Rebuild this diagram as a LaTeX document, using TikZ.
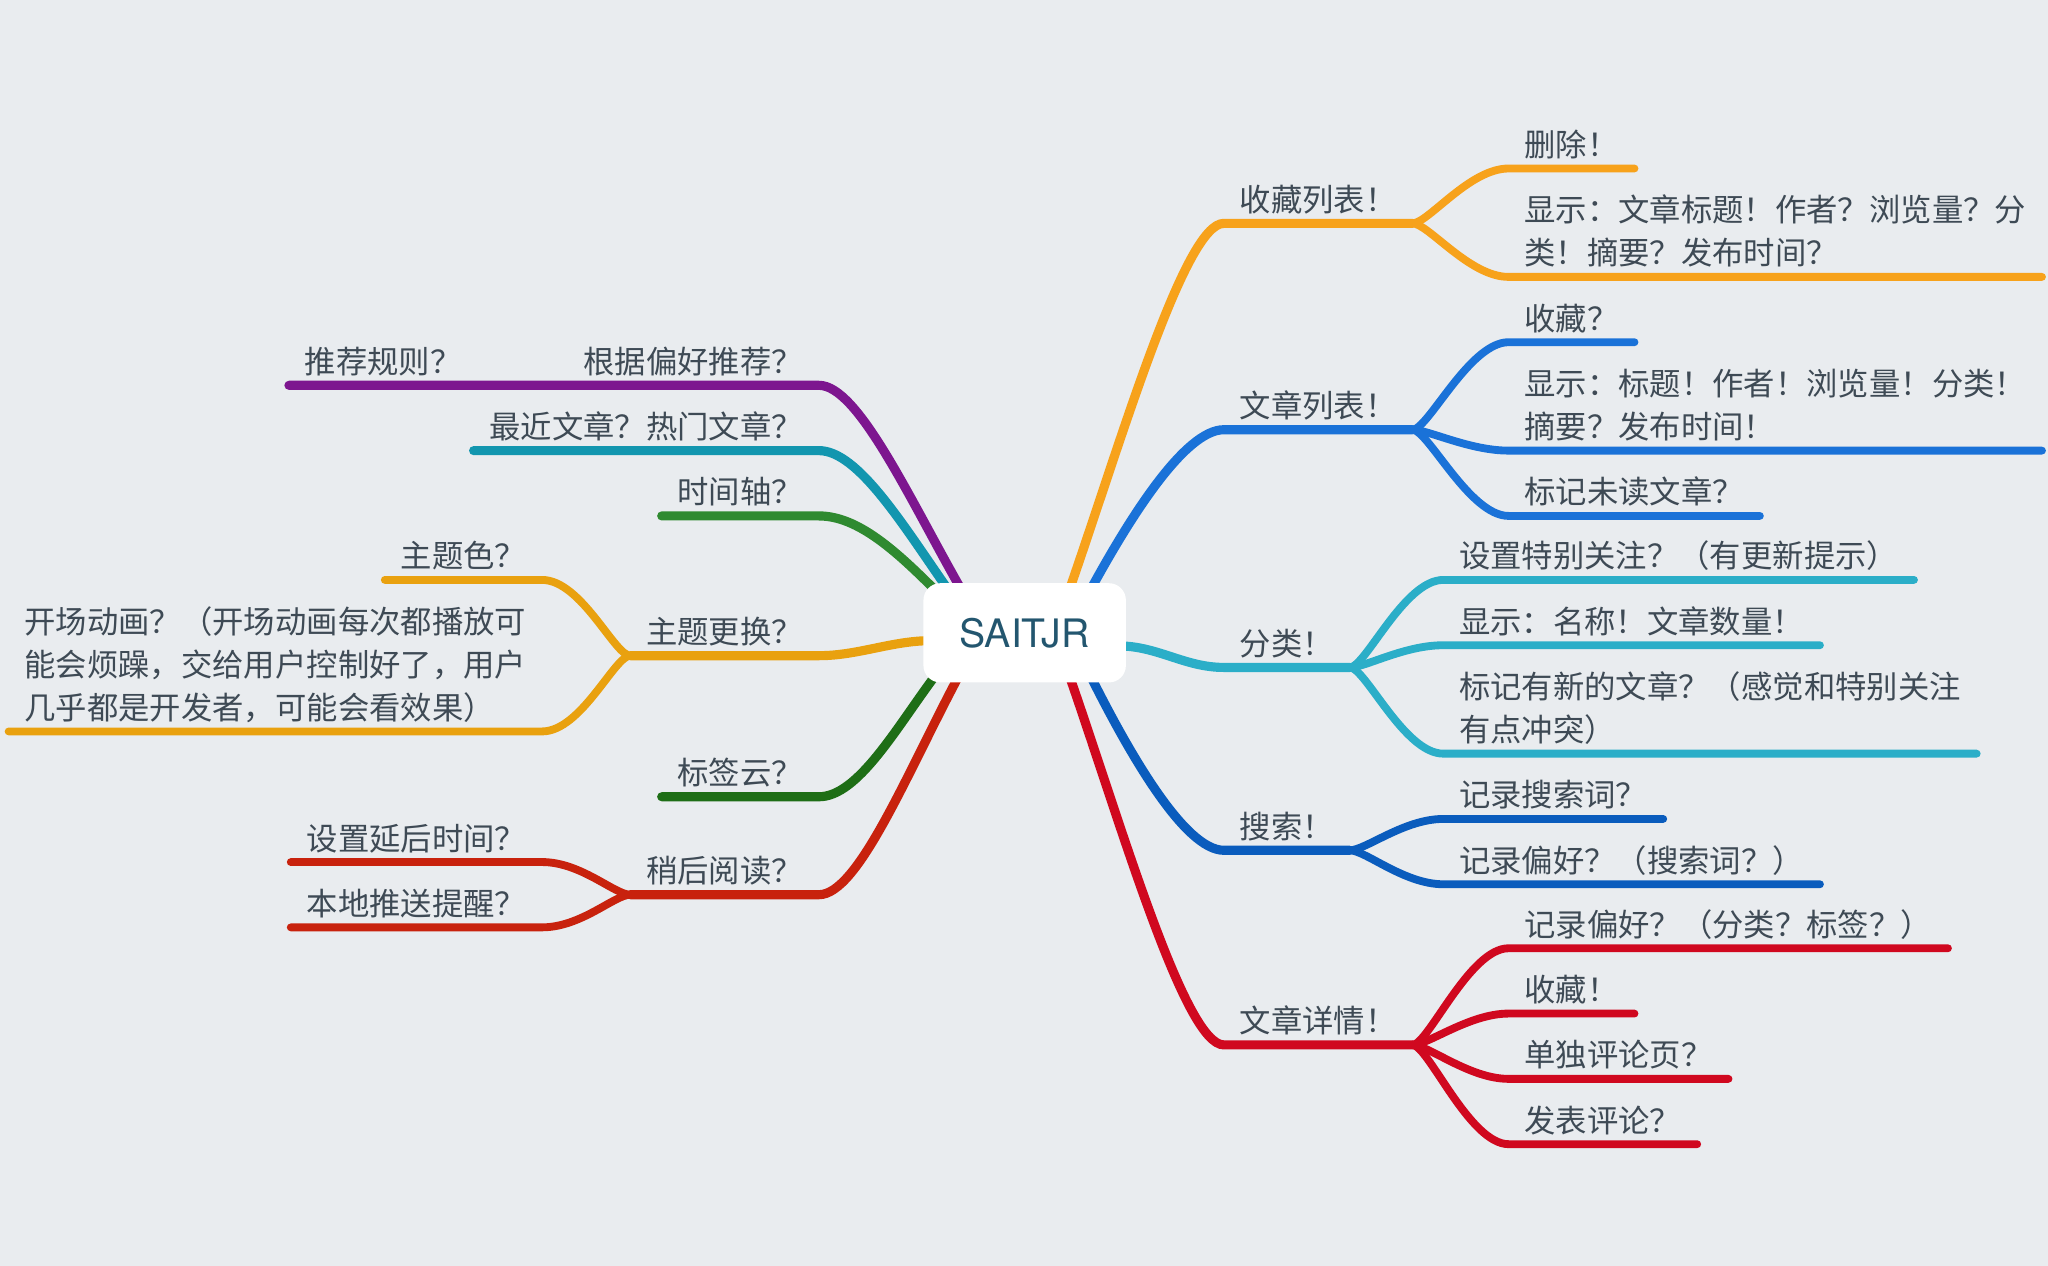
\documentclass[tikz,border=0pt]{standalone}
\usepackage{fontspec}
\newfontfamily\cjk{Noto Sans CJK SC}
\newfontfamily\rootfont{TeX Gyre Heros}
\definecolor{paper}{HTML}{E9ECEF}
\definecolor{txt}{HTML}{3E4A55}
\definecolor{rootc}{HTML}{23566F}
\definecolor{cFav}{HTML}{F7A21B}
\definecolor{cList}{HTML}{1A72D8}
\definecolor{cCat}{HTML}{2BAEC8}
\definecolor{cSearch}{HTML}{0A5CBD}
\definecolor{cDetail}{HTML}{D0081F}
\definecolor{cRec}{HTML}{7D168F}
\definecolor{cNew}{HTML}{1296AF}
\definecolor{cTime}{HTML}{2F8A30}
\definecolor{cTheme}{HTML}{E9A10F}
\definecolor{cTag}{HTML}{1E6E16}
\definecolor{cLater}{HTML}{C8220D}
\pgfdeclarelayer{bg}
\pgfdeclarelayer{lines}
\pgfsetlayers{bg,lines,main}
\tikzset{
  topic/.style={font=\cjk\fontsize{24}{33}\selectfont, text=txt, inner xsep=12pt, inner ysep=9pt, text depth=0pt},
  rtopic/.style={topic, anchor=south west},
  ltopic/.style={topic, anchor=south east},
  branch/.style={line width=6pt, line cap=round, line join=round, draw=#1},
  mainbranch/.style={branch=#1, line width=7pt},
}
\begin{document}
\begin{tikzpicture}[x=1pt,y=-1pt]
\begin{pgfonlayer}{bg}
\fill[paper] (0,0) rectangle (1568,969);
\end{pgfonlayer}
\useasboundingbox (0,0) rectangle (1568,969);
\node[fill=white, rounded corners=13pt, minimum width=155pt, minimum height=76pt, font=\rootfont\fontsize{30}{36}\selectfont, text=rootc] (root) at (784.5,484.5) {SAITJR};

% right side
\node[rtopic] (fav) at (937,171) {收藏列表！};
\node[rtopic] (del) at (1155,129) {删除！};
\node[rtopic] (favshow) at (1155,212) {\parbox[b]{384pt}{显示：文章标题！作者？浏览量？分\\类！摘要？发布时间？}};

\node[rtopic] (list) at (937,329) {文章列表！};
\node[rtopic] (lfav) at (1155,262) {收藏？};
\node[rtopic] (lshow) at (1155,345) {\parbox[b]{384pt}{显示：标题！作者！浏览量！分类！\\摘要？发布时间！}};
\node[rtopic] (unread) at (1155,395) {标记未读文章？};

\node[rtopic] (cat) at (937,511) {分类！};
\node[rtopic] (follow) at (1105,444) {设置特别关注？（有更新提示）};
\node[rtopic] (catshow) at (1105,494) {显示：名称！文章数量！};
\node[rtopic] (newmark) at (1105,577) {\parbox[b]{384pt}{标记有新的文章？（感觉和特别关注\\有点冲突）}};

\node[rtopic] (search) at (937,651) {搜索！};
\node[rtopic] (kw) at (1105,627) {记录搜索词？};
\node[rtopic] (pref) at (1105,677) {记录偏好？（搜索词？）};

\node[rtopic] (detail) at (937,800) {文章详情！};
\node[rtopic] (dpref) at (1155,726) {记录偏好？（分类？标签？）};
\node[rtopic] (dfav) at (1155,776) {收藏！};
\node[rtopic] (cmtpage) at (1155,826) {单独评论页？};
\node[rtopic] (cmt) at (1155,876) {发表评论？};

% left side
\node[ltopic] (rec) at (627,295) {根据偏好推荐？};
\node[ltopic] (rule) at (rec.south west) {\makebox[189pt][l]{推荐规则？}};
\node[ltopic] (hot) at (627,345) {最近文章？热门文章？};
\node[ltopic] (time) at (627,395) {时间轴？};

\node[ltopic] (theme) at (627,502) {主题更换？};
\node[ltopic] (tcolor) at (415,444) {主题色？};
\node[ltopic] (intro) at (415,560) {\parbox[b]{384pt}{开场动画？（开场动画每次都播放可\\能会烦躁，交给用户控制好了，用户\\几乎都是开发者，可能会看效果）}};

\node[ltopic] (tag) at (627,610) {标签云？};

\node[ltopic] (later) at (627,685) {稍后阅读？};
\node[ltopic] (delay) at (415,660) {设置延后时间？};
\node[ltopic] (push) at (415,710) {本地推送提醒？};

\begin{pgfonlayer}{lines}
\draw[mainbranch=cFav] ([shift={(34,6)}]root.north) .. controls +(40,-115) and +(-30,0) .. (fav.south west) -- (fav.south east);
\draw[branch=cFav] (fav.south east) .. controls +(12,0) and +(-30,0) .. (del.south west) -- (del.south east);
\draw[branch=cFav] (fav.south east) .. controls +(12,0) and +(-30,0) .. (favshow.south west) -- (favshow.south east);

\draw[mainbranch=cList] ([shift={(50,6)}]root.north) .. controls +(30,-55) and +(-30,0) .. (list.south west) -- (list.south east);
\foreach \n in {lfav,lshow,unread}
  \draw[branch=cList] (list.south east) .. controls +(12,0) and +(-30,0) .. (\n.south west) -- (\n.south east);

\draw[mainbranch=cCat] ([shift={(-6,10)}]root.east) .. controls +(30,0) and +(-30,0) .. (cat.south west) -- (cat.south east);
\foreach \n in {follow,catshow,newmark}
  \draw[branch=cCat] (cat.south east) .. controls +(12,0) and +(-30,0) .. (\n.south west) -- (\n.south east);

\draw[mainbranch=cSearch] ([shift={(50,-6)}]root.south) .. controls +(30,60) and +(-30,0) .. (search.south west) -- (search.south east);
\foreach \n in {kw,pref}
  \draw[branch=cSearch] (search.south east) .. controls +(12,0) and +(-30,0) .. (\n.south west) -- (\n.south east);

\draw[mainbranch=cDetail] ([shift={(34,-6)}]root.south) .. controls +(40,115) and +(-30,0) .. (detail.south west) -- (detail.south east);
\foreach \n in {dpref,dfav,cmtpage,cmt}
  \draw[branch=cDetail] (detail.south east) .. controls +(12,0) and +(-30,0) .. (\n.south west) -- (\n.south east);

\draw[mainbranch=cRec] ([shift={(-48,6)}]root.north) .. controls +(-40,-70) and +(30,0) .. (rec.south east) -- (rec.south west) -- (rule.south west);
\draw[mainbranch=cNew] ([shift={(-58,6)}]root.north) .. controls +(-35,-50) and +(30,0) .. (hot.south east) -- (hot.south west);
\draw[mainbranch=cTime] ([shift={(-68,6)}]root.north) .. controls +(-30,-30) and +(30,0) .. (time.south east) -- (time.south west);

\draw[mainbranch=cTheme] ([shift={(6,6)}]root.west) .. controls +(-30,0) and +(30,0) .. (theme.south east) -- (theme.south west);
\foreach \n in {tcolor,intro}
  \draw[branch=cTheme] (theme.south west) .. controls +(-12,0) and +(30,0) .. (\n.south east) -- (\n.south west);

\draw[mainbranch=cTag] ([shift={(-68,-6)}]root.south) .. controls +(-30,40) and +(30,0) .. (tag.south east) -- (tag.south west);

\draw[mainbranch=cLater] ([shift={(-50,-6)}]root.south) .. controls +(-40,75) and +(30,0) .. (later.south east) -- (later.south west);
\foreach \n in {delay,push}
  \draw[branch=cLater] (later.south west) .. controls +(-12,0) and +(30,0) .. (\n.south east) -- (\n.south west);
\end{pgfonlayer}
\end{tikzpicture}
\end{document}
